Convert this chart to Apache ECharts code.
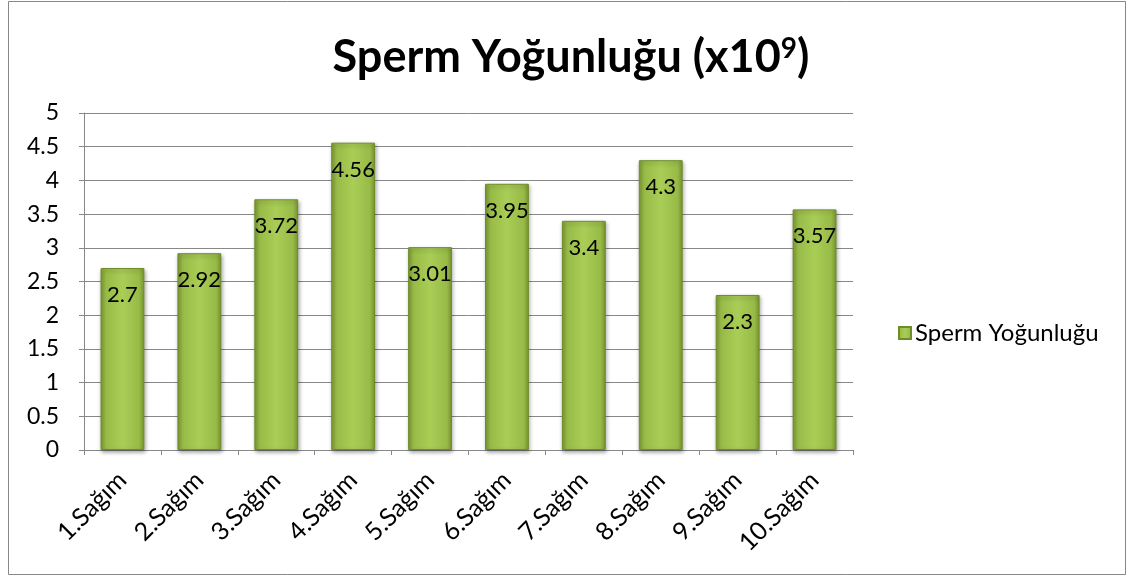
<!DOCTYPE html>
<html><head><meta charset="utf-8">
<script src="https://cdn.jsdelivr.net/npm/echarts@6/dist/echarts.min.js"></script>
<style>html,body{margin:0;padding:0;background:#fff}#c{width:1134px;height:578px}</style>
</head><body><div id="c"></div>
<script>
const categories = ['1.Sağım','2.Sağım','3.Sağım','4.Sağım','5.Sağım','6.Sağım','7.Sağım','8.Sağım','9.Sağım','10.Sağım'];
const values = [2.7, 2.92, 3.72, 4.56, 3.01, 3.95, 3.4, 4.3, 2.3, 3.57];
const seriesName = 'Sperm Yoğunluğu';
const yTicks = [0, 0.5, 1, 1.5, 2, 2.5, 3, 3.5, 4, 4.5, 5];

const FONT = 'Lato, "Open Sans", sans-serif';
const chart = echarts.init(document.getElementById('c'));
const barColor = new echarts.graphic.LinearGradient(0, 0, 1, 0, [
  {offset: 0, color: '#7d9c33'},
  {offset: 0.12, color: '#98bb48'},
  {offset: 0.5, color: '#a9cd55'},
  {offset: 0.88, color: '#98bb48'},
  {offset: 1, color: '#7a9930'}
]);
chart.setOption({
  animation: false,
  title: {
    text: '{a|Sperm Yoğunluğu (x10}{s|9}{a|)}',
    top: 30, left: 566, textAlign: 'center',
    textStyle: {
      rich: {
        a: {fontSize: 45, fontWeight: 'bold', fontFamily: FONT, color: '#000', verticalAlign: 'bottom'},
        s: {fontSize: 28, fontWeight: 'bold', fontFamily: FONT, color: '#000', verticalAlign: 'top'}
      }
    }
  },
  legend: {
    data: [seriesName], left: 893, top: 316, orient: 'vertical',
    itemWidth: 12, itemHeight: 12, itemGap: 4,
    textStyle: {fontSize: 24, fontFamily: FONT, color: '#000', padding: [0,0,0,-1]},
    icon: 'rect'
  },
  grid: {left: 84, right: 281, top: 113, bottom: 128, containLabel: false},
  xAxis: {
    type: 'category', data: categories,
    axisLine: {lineStyle: {color: '#888'}},
    axisTick: {show: true, alignWithLabel: false, length: 5, lineStyle: {color: '#888'}},
    axisLabel: {rotate: 45, fontSize: 25, fontFamily: FONT, color: '#000', margin: 26, interval: 0}
  },
  yAxis: {
    type: 'value', min: 0, max: 5, interval: 0.5,
    axisLine: {show: true, lineStyle: {color: '#888'}},
    axisTick: {show: true, length: 5, lineStyle: {color: '#888'}},
    splitLine: {lineStyle: {color: '#888'}},
    axisLabel: {fontSize: 23, fontFamily: FONT, color: '#000', margin: 25,
      formatter: v => yTicks.includes(v) ? String(v) : ''}
  },
  series: [{
    name: seriesName, type: 'bar', data: values,
    barCategoryGap: '43%',
    itemStyle: {color: barColor, borderColor: '#6f8c2a', borderWidth: 1,
      shadowColor: 'rgba(0,0,0,0.35)', shadowBlur: 4, shadowOffsetX: 1, shadowOffsetY: 2},
    label: {show: true, position: 'insideTop', distance: 16, fontSize: 22, fontFamily: FONT, color: '#000'}
  }],
  graphic: [{
    type: 'rect', shape: {x: 8.5, y: 1.5, width: 1117, height: 573},
    style: {fill: 'none', stroke: '#888', lineWidth: 1}, silent: true, z: -1
  }]
});
</script></body></html>
